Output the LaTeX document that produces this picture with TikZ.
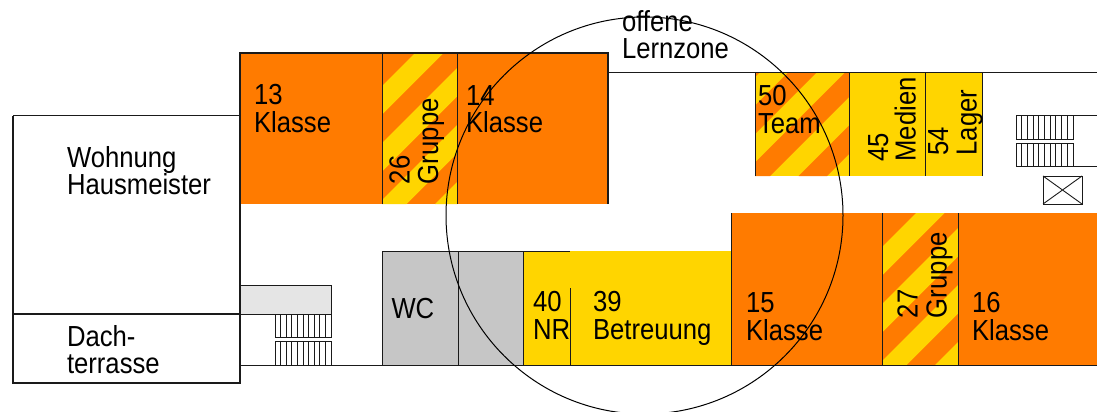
\documentclass[tikz,border=0pt]{standalone}
\usepackage{fontspec}
\setmainfont[FakeStretch=0.885]{Liberation Sans}
\definecolor{orangeR}{HTML}{FF7B00}
\definecolor{yellowR}{HTML}{FFD500}
\definecolor{grayR}{HTML}{C6C6C6}
\definecolor{lightR}{HTML}{E5E5E5}
\definecolor{lineR}{HTML}{1A1A1A}
\tikzset{
  wall/.style={draw=lineR,line width=1.2pt},
  thin wall/.style={draw=lineR,line width=1pt},
  stair/.style={draw=lineR,line width=0.9pt},
  ring/.style={draw=black,line width=1pt},
  lbl/.style={inner sep=0pt,outer sep=0pt,anchor=base west,align=left,text=black,
    font=\fontsize{29}{27.3}\selectfont},
  rlbl/.style={inner sep=0pt,outer sep=0pt,anchor=base west,rotate=90,text=black,
    font=\fontsize{29}{27.3}\selectfont},
}
% #1 fill colour, #2 x0, #3 y0, #4 x1, #5 y1, #6 first x+y, 
\newcommand{\stripes}[6]{%
  \begin{scope}
    \clip (#2,#3) rectangle (#4,#5);
    \foreach \k in {0,1,...,6}{
      \pgfmathsetmacro{\sa}{#6+57*\k}
      \pgfmathsetmacro{\sb}{\sa+28.5}
      \fill[#1] (\sa-#3,#3) -- (\sb-#3,#3) -- (\sb-#5,#5) -- (\sa-#5,#5) -- cycle;
    }
  \end{scope}}
\begin{document}
\begin{tikzpicture}[x=1pt,y=-1pt]
\useasboundingbox (0,0) rectangle (1097,412);
% fills
\fill[orangeR] (240,53) rectangle (608,204);
\stripes{yellowR}{382}{53}{457}{204}{468}
\fill[yellowR] (755,72) rectangle (982,176);
\stripes{orangeR}{755}{72}{849}{176}{803.5}
\fill[grayR] (382,251) rectangle (523,365);
\fill[yellowR] (523,251) rectangle (731,365);
\fill[orangeR] (731,213) rectangle (1097,365);
\stripes{yellowR}{882}{213}{958}{365}{1129}
\fill[lightR] (240,285) rectangle (331,314);
% walls
\draw[wall] (13,115.5) -- (240,115.5);
\draw[wall] (13,115.5) -- (13,383) -- (240,383) -- (240,53) -- (608,53) -- (608,204);
\draw[wall] (13,314) -- (240,314);
\draw[thin wall] (382,53) -- (382,204) (457,53) -- (457,204);
\draw[thin wall] (608,72) -- (1097,72);
\draw[thin wall] (755,72) -- (755,176) (849,72) -- (849,176) (925,72) -- (925,176) (982,72) -- (982,176);
\draw[thin wall] (240,285) -- (331,285) -- (331,314) -- (240,314);
\draw[thin wall] (240,365) -- (1097,365);
\draw[thin wall] (382,365) -- (382,251) -- (570,251);
\draw[thin wall] (458,251) -- (458,365) (523,251) -- (523,365);
\draw[thin wall] (570,288) -- (570,365);
\draw[thin wall] (731,213) -- (731,365);
\draw[thin wall] (882,213) -- (882,365) (958,213) -- (958,365);
% stairs, lower left
\foreach \yy/\zz in {314/337.5,341.5/365}{
  \draw[stair] (275,\yy) rectangle (331,\zz);
  \foreach \k in {1,...,9} \draw[stair] (275+5.6*\k,\yy) -- (275+5.6*\k,\zz);
}
% stairs, upper right
\foreach \yy/\zz in {115.5/139,143/166}{
  \draw[stair] (1016,\yy) rectangle (1073,\zz);
  \foreach \k in {1,...,9} \draw[stair] (1016+5.7*\k,\yy) -- (1016+5.7*\k,\zz);
}
\draw[stair] (1073,115.5) -- (1097,115.5) (1073,166) -- (1097,166);
% lift
\draw[stair] (1043,176) rectangle (1082,204);
\draw[stair] (1043,176) -- (1082,204) (1043,204) -- (1082,176);
% labels
\node[lbl] (wohnung) at (67,194.5) {Wohnung\\Hausmeister};
\node[lbl] (dach) at (67,373.5) {Dach-\\terrasse};
\node[lbl] (r13) at (254,132) {13\\Klasse};
\node[lbl] (r14) at (466,132.5) {14\\Klasse};
\node[lbl] (lern) at (622,58.5) {offene\\Lernzone};
\node[lbl] (r50) at (758,133) {50\\Team};
\node[lbl] (wc) at (391.5,318) {WC};
\node[lbl] (r40) at (533,339) {40\\NR};
\node[lbl] (r39) at (593,339) {39\\Betreuung};
\node[lbl] (r15) at (746,340) {15\\Klasse};
\node[lbl] (r16) at (972,340) {16\\Klasse};
\node[rlbl] (n26) at (409.5,184) {26};
\node[rlbl] (g26) at (438,184) {Gruppe};
\node[rlbl] (n27) at (917.5,318) {27};
\node[rlbl] (g27) at (946.5,318) {Gruppe};
\node[rlbl] (n45) at (888,161.5) {45};
\node[rlbl] (m45) at (915.5,161.5) {Medien};
\node[rlbl] (n54) at (948,155.5) {54};
\node[rlbl] (l54) at (976.5,155.5) {Lager};
% circle
\draw[ring] (644.5,215.5) circle[radius=198.5];
\end{tikzpicture}
\end{document}
